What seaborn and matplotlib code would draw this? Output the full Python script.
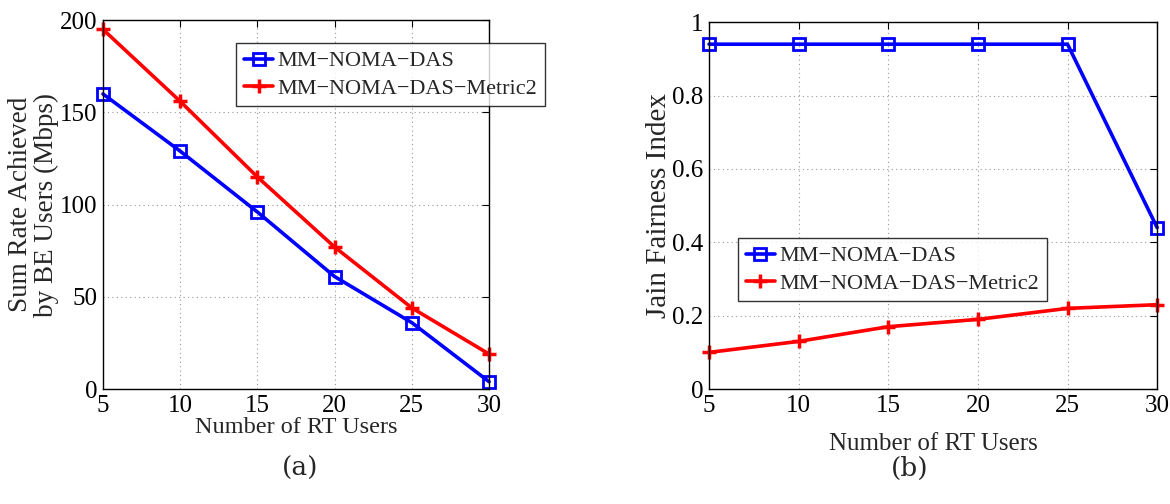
import numpy as np
import pandas as pd
import seaborn as sns
import matplotlib.pyplot as plt

# data
rt_users = [5, 10, 15, 20, 25, 30]
rate_das = [160, 129, 96, 61, 36, 4]
rate_metric2 = [195, 156, 115, 77, 44, 19]
jain_das = [0.94, 0.94, 0.94, 0.94, 0.94, 0.44]
jain_metric2 = [0.10, 0.13, 0.17, 0.19, 0.22, 0.23]
labels = ['MM\u2212NOMA\u2212DAS', 'MM\u2212NOMA\u2212DAS\u2212Metric2']

sns.set_theme(style="white")
plt.rcParams['font.family'] = ['Liberation Serif', 'DejaVu Serif']

fig = plt.figure(figsize=(11.7, 5.04), dpi=100)
ax1 = fig.add_axes([0.088, 0.228, 0.330, 0.732])
ax2 = fig.add_axes([0.606, 0.228, 0.383, 0.728])

legend_kw = dict(fontsize=16, frameon=True, fancybox=False, edgecolor='black',
                 handlelength=1.3, handletextpad=0.2, borderpad=0.35,
                 labelspacing=0.3, borderaxespad=0)


def draw(ax, y_das, y_m2):
    df = pd.DataFrame({'x': rt_users, 'das': y_das, 'm2': y_m2})
    sns.lineplot(data=df, x='x', y='das', ax=ax, color='blue', lw=2.6,
                 marker='s', markersize=8, markerfacecolor='none',
                 markeredgecolor='blue', markeredgewidth=2, label=labels[0],
                 clip_on=False)
    sns.lineplot(data=df, x='x', y='m2', ax=ax, color='red', lw=2.6,
                 marker='+', markersize=10, markeredgewidth=2.5,
                 markeredgecolor='red', label=labels[1], clip_on=False)
    ax.set_xlim(5, 30)
    ax.set_xticks(rt_users)
    ax.grid(True, ls=(0, (1, 3)), color='#999999', lw=0.8)
    ax.tick_params(direction='in', top=True, right=True, labelsize=18,
                   length=5, width=0.8, colors='black', pad=4)
    for s in ax.spines.values():
        s.set_color('black')
        s.set_linewidth(1.0)


draw(ax1, rate_das, rate_metric2)
ax1.set_ylim(0, 200)
ax1.set_yticks([0, 50, 100, 150, 200])
ax1.set_xlabel('Number of RT Users', fontsize=17.5, labelpad=0)
ax1.set_ylabel('Sum Rate Achieved\nby BE Users (Mbps)', fontsize=19.5, labelpad=1,
               linespacing=1.0)
ax1.legend(loc='upper right', bbox_to_anchor=(545 / 1170, 1 - 43 / 504),
           bbox_transform=fig.transFigure, **legend_kw)
ax1.get_legend().get_frame().set_linewidth(1.0)

draw(ax2, jain_das, jain_metric2)
ax2.set_ylim(0, 1)
ax2.set_yticks([0, 0.2, 0.4, 0.6, 0.8, 1])
ax2.set_yticklabels(['0', '0.2', '0.4', '0.6', '0.8', '1'])
ax2.set_xlabel('Number of RT Users', fontsize=18, labelpad=12)
ax2.set_ylabel('Jain Fairness Index', fontsize=21, labelpad=0)
ax2.legend(loc='upper left', bbox_to_anchor=(738 / 1170, 1 - 238 / 504),
           bbox_transform=fig.transFigure, **legend_kw)
ax2.get_legend().get_frame().set_linewidth(1.0)

fig.text(300 / 1170, 1 - 468 / 504, '(a)', ha='center', va='center', fontsize=19,
         family=['DejaVu Serif'])
fig.text(910 / 1170, 1 - 468 / 504, '(b)', ha='center', va='center', fontsize=19,
         family=['DejaVu Serif'])

fig.savefig('out.png', dpi=100, facecolor='white')
